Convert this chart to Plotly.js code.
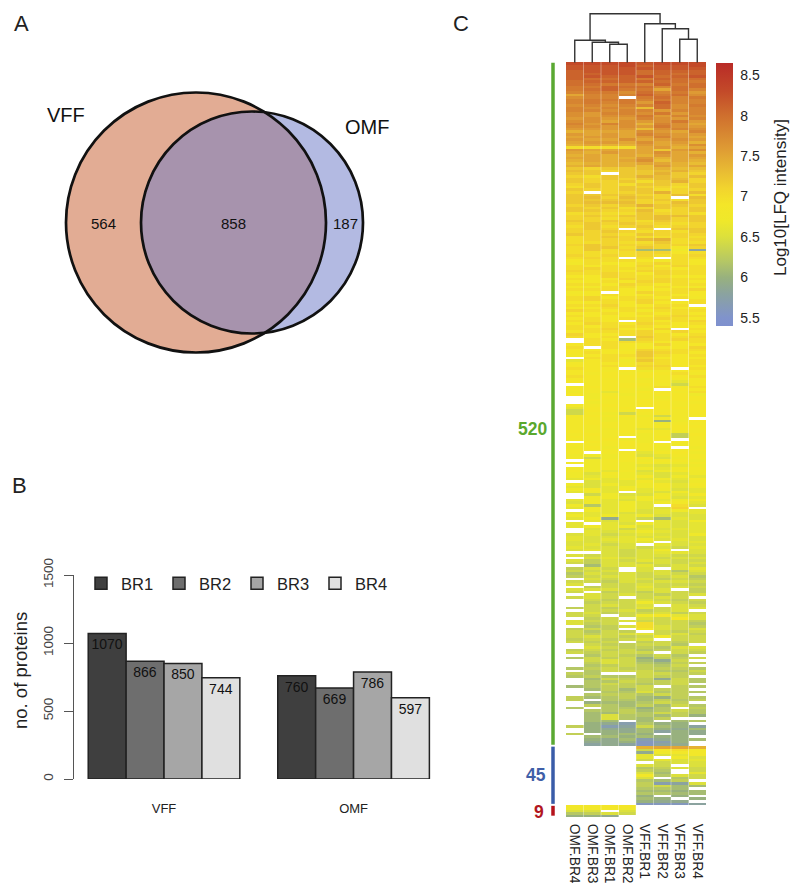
<!DOCTYPE html>
<html><head><meta charset="utf-8">
<script src="https://cdn.plot.ly/plotly-3.0.1.min.js"></script>
<style>html,body{margin:0;padding:0;background:#fff}#p{width:800px;height:896px}</style>
</head><body><div id="p"></div>
<script>
// ---------- Panel A ----------
const vennNames = ["VFF","OMF"];
const vennCounts = [564,858,187];
// ---------- Panel B ----------
const groups = ["VFF","OMF"];
const replicates = ["BR1","BR2","BR3","BR4"];
const br1 = [1070,760];
const br2 = [866,669];
const br3 = [850,786];
const br4 = [744,597];
const barColors = ["#3f3f3f","#6e6e6e","#a6a6a6","#e0e0e0"];
// ---------- Panel C ----------
const samples = ["OMF.BR4","OMF.BR3","OMF.BR1","OMF.BR2","VFF.BR1","VFF.BR2","VFF.BR3","VFF.BR4"];
const blockCounts = [520,45,9];
// one letter per cell: a=5.5 b=5.6 ... z=8.0 A=8.1 ... E=8.5, "." = not detected
const letterLevels = "abcdefghijklmnopqrstuvwxyzABCDE";
const rows520 = [
"CCCCBCCC","BBBCABBC","BBBBBBBB","ABBBzAAA","AABBzAzA","ABAABzAB","AzzAyAzz","zAAAAzzy","zzyyxAyz","yyAzzxzz",
"yzAyyuzx","xyywzxyv","uxxxAyzw","wxx.yzxy","xyyyxyxx","xyxyvAxx","wxwxxzwy","xwxwszwx","xxwxxvxx","wvxxwyvx",
"wvwwyvxw","vwvvxwvx","wwuwvwyv","xvxwtxwu","wwvwvywv","vvvvswxw","tuuuwvux","vuvuxwvv","uvvuvxvu","vuuwuvwv",
"uvvuwuvt","tuttvuuw","ppppuvtu","vuuuurvw","utvuuwut","tututvuv","uuttvtuu","tutuwsut","stttuuts","tuttsvtu",
"rqrrstss","srqrrstr","rr.rrtrq","qprrtsrs","rqrqrssq","rqqrprtq","qrqprrqr","prqrqqpr","rqqrrpqq","q.qqrtqs",
"rrrrqqsp","rsqsrq.s","rrrrqrpr","rsssqqsr","qrqrtrrq","rqrpqrqr","rrqqspqr","pqpprqqp","qrqrrssr","qqpqrsqr",
"rqrqprqr","qrqrqqpq","prpqrpqq","qrq.q.rr","qqrqpqpr","rqqprqqq","pqrqppqp","pqqqstpq","ppqpprpp","qrqqqqqr",
"prrprqoq","prpqggmd","ppppqqop","qpqpqppq","pqp.p.pp","oppponpo","npoopqpo","popoqoqp","pqppppop","qppoqqpp",
"ppqpoqpp","ooqpppoo","pooqpqpp","oopoqqpo","ppoqpopp","onppopon","pppooopq","no.oqppo","oopoopoo","pqoppopn",
"pqppqp.p","oopoqoop","ppqoopp.","oopppqoo","qpopnppp","oopopopo","poooopqp","opoppqpo","ppo.popq","oqpoqpop",
"popppooo","ppqooq.p","opppqoqo","qoopqpop","pop.rppq",".pogqpqp",".ppppoop","opponqoo","p.pooooq","ooonqppp",
"opoorqpo","nopprpop",".ppoqooo","lopmrpop","noonppop","oopoqqoo","poo.pp.p","oonomnoo","ononoopn","poooonop",
"oonomnnn","ononnolo",".nooonjo","nooonpnp","nnonm.oo","mnlnonnp","omnmnoom",".monnmoo",".nnnonoo",".mnnoonn",
"nnonoono","lono.ooo","jonnonno","jnmjnono","nonomjnn","nnmmnnn.","nomnnfmo","nonnnmnn","nnnnnnoo","nnmnllon",
"onnonnmn","nonnmnio","onn.moin","nnommn.n",".onom.nn","nnnonnmn","momnnm.m","nnn.nmnn","n.nnlnom","mmmnklnn",
"njmnokmn",".mnnmnnm","nmnmnmmn",".mnmlklm","mmnmmlmn","nmlnkmnm","mknmlklm","mlmmnkml","lmlnlmln",".kllnlkm",
"mkmlmnln","lklmmnlm","mnlnlmkl","lml.lkml",".jmkkmln",".mmlmnkl","lmlkmlmm","kmlmlmnl","mhlml.pk","lmlmlkq.",
".mlmklml","lllkklkl","mlmlmkkk","lmeljglk",".lkl.lkm","l.lkmlkl","lmlmklkl",".kljlkll",".lklmlkl","kljklkkm",
"lkklklkk","lkllmklk","kkkll.kl","kljk.lkk","lkkkjkjl","klkjkm.k","..kjkllk","kjkjkkjj",".klkkjkk","kikjlkjj",
"jikkjkjk",".gkkljkj","ikj.k.kl","jjk.kkhk","hkjkjkjj","ijkkjjkh",".kjkkiji","jjikjkkj","k.jjkjji",".ijjljkj",
"kkkjkk.i","j.ijikji",".kjkjijk","jkj.jkj.",".jijkjij",".ijjmkji",".jkjk.kj","ijijljkk",".jjkijk.","jkijjkij",
"jj.jmolk",".ij.kjok","kjjkjjji","kij.pjjh",".hikpkji","iji.okjk","jhji.jij","jijkljki","jkjijmjj","ijijk.jj",
"jij.ijij",".jiijjh.",".kjiihkk","ijijhijj","jijjj.ji",".hjihjh.","hjijfiij",".jkjgej.",".ikjhgii",".hijihj.",
"hijiiiih",".hjjjhhj","ih..jjii","hihhjii.",".gjiiejh",".hhjiijh",".hjihij.","ghiij.ih",".gigjii.","..hhkhih",
".hiihji.","ighigfih","i.hhgihi",".fgghji.",".ihgigjh","h.hhfh.i",".hhighjh",".ggihjih",".gkhhgif",".gkhgi..",
".gg.g.gh",".fechff.","ifcdjgfd",".feegfeg",".ffegdfe","i.fgf.fe",".ggfgff.",".fegcefg",".eefbcf.",".dedbde."
];
const rows45 = [
"....tuut","....jopn","....emnn","....lkln","....l.mk","....jlkl",".....jkk","....kj.k","....hikj","....ih.j",
"....kg.l","....nhkj","....k.hj","....hgi.","....icdk","....ijgg","....hhg.","....ggfg","....hhgg","....f.f.",
"....gf.f","....fee.","....bbbd"
];
const rows9 = ["nnoo....","mnnm....","kk.k....","hikj....","ffe....."];
// merges: left position, right position, height, left child height, right child height
const dendroMerges = [
 [2,3,18.4,0,0],
 [1,2.5,20.4,0,18.4],
 [0,1.75,22.4,0,20.4],
 [6,7,23.4,0,0],
 [5,6.5,34,0,23.4],
 [4,5.75,39,0,34],
 [0.875,4.875,49,22.4,39]
];
const colorStops = [[5.4,"#7E90CE"],[5.5,"#8093CC"],[5.8,"#8BA39F"],[6.0,"#98B17E"],[6.2,"#B5C765"],[6.5,"#DCE03C"],[6.7,"#EFE82A"],[6.9,"#F4E628"],[7.1,"#F2D42E"],[7.3,"#E9BD33"],[7.6,"#DE9A34"],[8.0,"#CF6F2E"],[8.3,"#C34A29"],[8.65,"#B92B27"]];
const colorTicks = [5.5,6,6.5,7,7.5,8,8.5];

// ---------- geometry helpers (pixels -> paper) ----------
const W=800,H=896;
const px=(a,b)=>[a/W,b/W], py=(top,bot)=>[1-bot/H,1-top/H];
const FONT='"Liberation Sans", Arial, sans-serif';
const ink="#222";

const traces=[];
[br1,br2,br3,br4].forEach((vals,i)=>traces.push({
  type:"bar",name:replicates[i],x:groups,y:vals,xaxis:"x",yaxis:"y",
  text:vals.map(String),textposition:"inside",insidetextanchor:"end",textangle:0,
  insidetextfont:{family:FONT,size:14,color:"#111"},
  marker:{color:barColors[i],line:{color:"#222",width:1.5}},hoverinfo:"skip"
}));

const decode=r=>[...r].map(c=>{const k=letterLevels.indexOf(c);return k<0?null:5.5+k*0.1;});
const allRows=[...rows520,...rows45,...rows9];
const rowY=[];
let start=0;
[rows520,rows45,rows9].forEach((rows,b)=>{
  rows.forEach((_,i)=>rowY.push(start+(i+0.5)*blockCounts[b]/rows.length));
  start+=blockCounts[b];
});
const zMin=colorStops[0][0],zMax=colorStops[colorStops.length-1][0];
traces.push({
  type:"heatmap",xaxis:"x2",yaxis:"y2",x:samples.map((_,i)=>i),y:rowY,z:allRows.map(decode),
  zmin:zMin,zmax:zMax,zsmooth:false,hoverongaps:false,
  colorscale:colorStops.map(s=>[(s[0]-zMin)/(zMax-zMin),s[1]]),
  colorbar:{x:716/W,xanchor:"left",xpad:0,y:1-63/H,yanchor:"top",ypad:0,len:263/H,lenmode:"fraction",
    thickness:17,outlinewidth:0,tickvals:colorTicks,ticktext:colorTicks.map(String),
    ticks:"outside",ticklen:5,tickcolor:"rgba(0,0,0,0)",tickfont:{family:FONT,size:14,color:ink}},
  hoverinfo:"skip",showlegend:false
});

// dendrogram
const dx=[],dy=[];
dendroMerges.forEach(m=>{dx.push(m[0],m[0],m[1],m[1],null);dy.push(m[3],m[2],m[2],m[4],null);});
traces.push({type:"scatter",mode:"lines",xaxis:"x2",yaxis:"y4",x:dx,y:dy,
  line:{color:"#333",width:1.4},showlegend:false,hoverinfo:"skip"});

// block bars beside the heatmap
const blockColors=["#5AA832","#3A5CA8","#B5121B"];
let s0=0;
blockCounts.forEach((n,i)=>{
  traces.push({type:"scatter",mode:"lines",xaxis:"x3",yaxis:"y2",x:[553,553],y:[s0+0.5,s0+n-1],
    line:{color:blockColors[i],width:3.5},showlegend:false,hoverinfo:"skip"});
  s0+=n;
});

const total=blockCounts.reduce((a,b)=>a+b,0);
const shapes=[];
// Venn (overlay axes are in page pixels)
const c1={x:196,y:222.5,r:130}, c2={x:252,y:222.5,r:111};
const d=c2.x-c1.x, a=(d*d+c1.r*c1.r-c2.r*c2.r)/(2*d), h=Math.sqrt(c1.r*c1.r-a*a);
const ix=c1.x+a;
const circle=(c,fill,line)=>({type:"circle",xref:"x3",yref:"y3",x0:c.x-c.r,x1:c.x+c.r,y0:c.y-c.r,y1:c.y+c.r,
  fillcolor:fill,line:{color:line,width:line==="rgba(0,0,0,0)"?0:2.7}});
shapes.push(circle(c2,"#B3BAE2","rgba(0,0,0,0)"));
shapes.push(circle(c1,"#E2AC94","rgba(0,0,0,0)"));
// lens outline: right arc of the VFF circle, then left arc of the OMF circle
const arcPts=(c,from,to)=>{const p=[];for(let i=0;i<=72;i++){const t=from+(to-from)*i/72;p.push((c.x+c.r*Math.cos(t)).toFixed(2)+" "+(c.y+c.r*Math.sin(t)).toFixed(2));}return p;};
const t1=Math.asin(h/c1.r), t2=Math.atan2(h,ix-c2.x);
const lens=[...arcPts(c1,-t1,t1),...arcPts(c2,t2,2*Math.PI-t2)];
shapes.push({type:"path",xref:"x3",yref:"y3",fillcolor:"#A793AD",line:{width:0},path:"M "+lens.join(" L ")+" Z"});
shapes.push(circle(c1,"rgba(0,0,0,0)","#111"));
shapes.push(circle(c2,"rgba(0,0,0,0)","#111"));
// faint column separators
for(let i=0;i<samples.length-1;i++) shapes.push({type:"line",xref:"x2",yref:"y2",x0:i+0.5,x1:i+0.5,y0:0,y1:total,
  line:{color:"rgba(255,255,255,0.35)",width:1}});

const note=(x,y,text,size,color,extra)=>Object.assign({xref:"x3",yref:"y3",x,y,text,showarrow:false,
  xanchor:"center",yanchor:"middle",font:{family:FONT,size,color}},extra||{});
const annotations=[
  note(21,23,"A",22,ink), note(19,485,"B",22,ink), note(461,23,"C",22,ink),
  note(66,115,vennNames[0],20,"#111"), note(367,127,vennNames[1],20,"#111"),
  note(103,223,String(vennCounts[0]),15,"#111"), note(233,223,String(vennCounts[1]),15,"#111"), note(345,223,String(vennCounts[2]),15,"#111"),
  note(532,429,"<b>"+blockCounts[0]+"</b>",17.5,"#5AA82E"),
  note(536,775,"<b>"+blockCounts[1]+"</b>",17.5,"#3F5FA8"),
  note(539,812,"<b>"+blockCounts[2]+"</b>",17.5,"#B2171F"),
  note(780,198,"Log10[LFQ intensity]",17,ink,{textangle:-90}),
  note(20,671,"no. of proteins",18.5,ink,{textangle:-90})
];

const layout={
  width:W,height:H,margin:{l:0,r:0,t:0,b:0},paper_bgcolor:"#fff",plot_bgcolor:"rgba(0,0,0,0)",
  font:{family:FONT,color:ink},
  barmode:"group",bargap:0.2,bargroupgap:0,
  showlegend:true,
  legend:{orientation:"h",x:81/W,xanchor:"left",y:1-566/H,yanchor:"top",entrywidth:33,entrywidthmode:"pixels",
    bgcolor:"rgba(0,0,0,0)",font:{family:FONT,size:16.5,color:ink},traceorder:"normal"},
  xaxis:{domain:px(74,440),anchor:"y",range:[-0.475,1.456],type:"category",showline:false,showgrid:false,zeroline:false,
    ticks:"outside",ticklen:17,tickcolor:"rgba(0,0,0,0)",tickfont:{family:FONT,size:13,color:ink}},
  yaxis:{domain:py(575,779),anchor:"x",range:[0,1500],tickvals:[0,500,1000,1500],showline:true,linecolor:"#555",linewidth:1,
    ticks:"outside",ticklen:9,tickcolor:"#555",tickangle:-90,ticklabelstandoff:6,showgrid:false,zeroline:false,
    tickfont:{family:FONT,size:13.5,color:"#444"}},
  xaxis2:{domain:px(566,706),anchor:"y2",range:[-0.5,7.5],tickvals:samples.map((_,i)=>i),ticktext:samples,tickangle:90,
    showline:false,showgrid:false,zeroline:false,ticks:"outside",ticklen:3,tickcolor:"rgba(0,0,0,0)",tickfont:{family:FONT,size:13.8,color:ink}},
  yaxis2:{domain:py(62,817),anchor:"x2",range:[total,0],visible:false,showgrid:false,zeroline:false},
  xaxis3:{domain:[0,1],anchor:"y3",range:[0,W],visible:false,showgrid:false,zeroline:false},
  yaxis3:{domain:[0,1],anchor:"x3",range:[H,0],visible:false,showgrid:false,zeroline:false},
  yaxis4:{domain:py(5,62.7),anchor:"x2",range:[0,57.7],visible:false,showgrid:false,zeroline:false},
  shapes,annotations
};
Plotly.newPlot("p",traces,layout,{staticPlot:true,displayModeBar:false});
</script></body></html>
